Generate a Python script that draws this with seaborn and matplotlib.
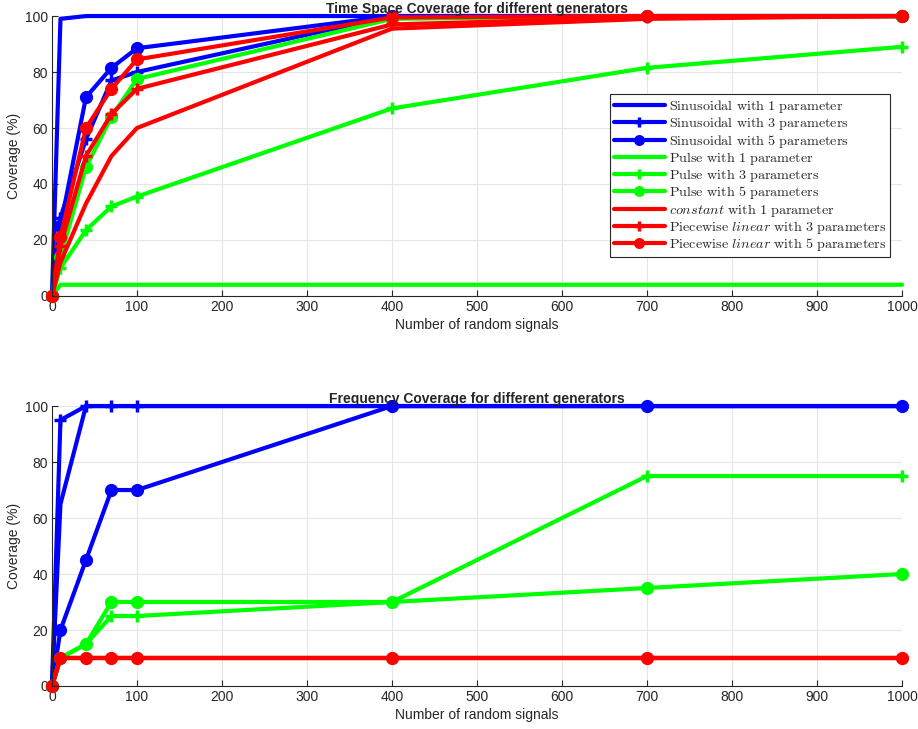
import matplotlib
matplotlib.use("Agg")
import matplotlib.pyplot as plt
import seaborn as sns

# number of random signals (x axis)
x_signals = [0, 10, 40, 70, 100, 400, 700, 1000]

# time space coverage (%)
time_sin1 = [0, 99, 100, 100, 100, 100, 100, 100]
time_sin3 = [0, 28, 56, 77, 80, 100, 100, 100]
time_sin5 = [0, 25, 71, 81.5, 88.5, 100, 100, 100]
time_pulse1 = [0, 4, 4, 4, 4, 4, 4, 4]
time_pulse3 = [0, 10, 23.5, 32, 35.5, 67, 81.5, 89]
time_pulse5 = [0, 14, 46, 64, 77.5, 99, 100, 100]
time_const1 = [0, 12, 33, 50, 60, 95.5, 99, 100]
time_pl3 = [0, 18, 50, 65, 74, 97, 99.5, 100]
time_pl5 = [0, 21, 60, 74, 84.5, 99.5, 100, 100]

# frequency coverage (%)
freq_sin1 = [0, 65, 100, 100, 100, 100, 100, 100]
freq_sin3 = [0, 95, 100, 100, 100, 100, 100, 100]
freq_sin5 = [0, 20, 45, 70, 70, 100, 100, 100]
freq_pulse1 = [0, 10, 10, 10, 10, 10, 10, 10]
freq_pulse3 = [0, 10, 15, 25, 25, 30, 75, 75]
freq_pulse5 = [0, 10, 15, 30, 30, 30, 35, 40]
freq_const1 = [0, 10, 10, 10, 10, 10, 10, 10]
freq_pl3 = [0, 10, 10, 10, 10, 10, 10, 10]
freq_pl5 = [0, 10, 10, 10, 10, 10, 10, 10]

labels = [
    r'$\mathrm{Sinusoidal\ with\ 1\ parameter}$',
    r'$\mathrm{Sinusoidal\ with\ 3\ parameters}$',
    r'$\mathrm{Sinusoidal\ with\ 5\ parameters}$',
    r'$\mathrm{Pulse\ with\ 1\ parameter}$',
    r'$\mathrm{Pulse\ with\ 3\ parameters}$',
    r'$\mathrm{Pulse\ with\ 5\ parameters}$',
    r'$\mathit{constant}\mathrm{\ with\ 1\ parameter}$',
    r'$\mathrm{Piecewise\ }\mathit{linear}\mathrm{\ with\ 3\ parameters}$',
    r'$\mathrm{Piecewise\ }\mathit{linear}\mathrm{\ with\ 5\ parameters}$',
]
colors = ['#0000ff'] * 3 + ['#00ff00'] * 3 + ['#ff0000'] * 3
markers = ['', '+', 'o'] * 3

sns.set_theme(style='whitegrid')
plt.rcParams['font.family'] = ['Liberation Sans', 'DejaVu Sans']
plt.rcParams['mathtext.fontset'] = 'cm'

fig = plt.figure(figsize=(9.18, 7.29), dpi=100)
ax1 = fig.add_axes([0.0566, 0.594, 0.926, 0.384])
ax2 = fig.add_axes([0.0566, 0.059, 0.926, 0.384])

time_data = [time_sin1, time_sin3, time_sin5, time_pulse1, time_pulse3,
             time_pulse5, time_const1, time_pl3, time_pl5]
freq_data = [freq_sin1, freq_sin3, freq_sin5, freq_pulse1, freq_pulse3,
             freq_pulse5, freq_const1, freq_pl3, freq_pl5]


def draw(ax, data, title):
    for ys, lab, c, m in zip(data, labels, colors, markers):
        if m == 'o':
            ms, mew = 8, 1.5
        else:
            ms, mew = 9, 2.5
        sns.lineplot(x=x_signals, y=ys, ax=ax, color=c, marker=m if m else None,
                     markersize=ms, markeredgewidth=mew, markeredgecolor=c,
                     linewidth=3, label=lab, clip_on=False, legend=False)
    ax.set_xlim(0, 1000)
    ax.set_ylim(0, 100)
    ax.set_xticks(range(0, 1001, 100))
    ax.set_yticks(range(0, 101, 20))
    ax.grid(True, color='#e6e6e6', linewidth=0.8)
    for s in ['top', 'right']:
        ax.spines[s].set_visible(False)
    for s in ['left', 'bottom']:
        ax.spines[s].set_color('#262626')
        ax.spines[s].set_linewidth(0.8)
    ax.tick_params(direction='in', length=4, width=0.8, colors='#262626',
                   labelsize=10, pad=3, left=True, bottom=True)
    ax.set_xlabel('Number of random signals', fontsize=10, color='#262626', labelpad=3)
    ax.set_ylabel('Coverage (%)', fontsize=10, color='#262626', labelpad=3)
    ax.set_title(title, fontsize=10, fontweight='bold', pad=2)
    ax.set_facecolor('white')


draw(ax1, time_data, 'Time Space Coverage for different generators')
draw(ax2, freq_data, 'Frequency Coverage for different generators')

handles, labs = ax1.get_legend_handles_labels()
leg = ax1.legend(handles, labs, loc='center right', bbox_to_anchor=(0.986, 0.43),
                 fontsize=10.2, frameon=True, fancybox=False, framealpha=1,
                 edgecolor='#262626', handlelength=3.6, handletextpad=0.3,
                 labelspacing=0.02, borderpad=0.25, borderaxespad=0,
                 markerscale=0.8)
leg.get_frame().set_linewidth(0.8)

fig.savefig('out.png', dpi=100)
